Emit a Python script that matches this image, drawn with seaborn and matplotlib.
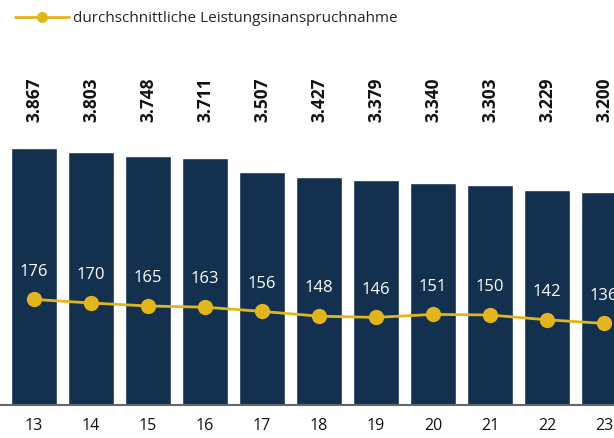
import matplotlib
matplotlib.use("Agg")
import matplotlib.pyplot as plt
import seaborn as sns
import pandas as pd
from matplotlib.lines import Line2D

years = ["13", "14", "15", "16", "17", "18", "19", "20", "21", "22", "23"]
totals = [3867, 3803, 3748, 3711, 3507, 3427, 3379, 3340, 3303, 3229, 3200]
avg_use = [176, 170, 165, 163, 156, 148, 146, 151, 150, 142, 136]
total_labels = ["3.867", "3.803", "3.748", "3.711", "3.507", "3.427", "3.379", "3.340", "3.303", "3.229", "3.200"]
legend_label = "durchschnittliche Leistungsinanspruchnahme"

BAR = "#13304f"
LINE = "#e3b51c"

sns.set_theme(style="white")
plt.rcParams["font.family"] = ["Open Sans", "DejaVu Sans"]

df = pd.DataFrame({"year": years, "total": totals, "avg": avg_use, "pos": range(len(years))})

fig = plt.figure(figsize=(6.14, 4.38), dpi=100)
H = 438
ax = fig.add_axes([0, 33 / H, 1, 345 / H])

sns.barplot(data=df, x="year", y="total", color=BAR, saturation=1, width=0.81, ax=ax)
ax.set_ylim(0, 345 / 0.06646)
ax.set_xlim(-0.596, 10.175)

ax2 = ax.twinx()
sns.lineplot(data=df, x="pos", y="avg", color=LINE, lw=2, marker="o", markersize=11,
             markeredgewidth=0, ax=ax2)
ax2.set_ylim(0, 345 / 0.6)

ytxt = (405 - 122) / 0.06646
for i, lab in enumerate(total_labels):
    ax.text(i, ytxt, lab, rotation=90, ha="center", va="bottom", fontsize=12.5,
            fontweight="bold", color="#111111")

for i, v in enumerate(avg_use):
    ax2.annotate(str(v), (i, v), xytext=(0, 20), textcoords="offset points",
                 ha="center", va="center", fontsize=12, color="white")

for a in (ax, ax2):
    a.set_ylabel("")
    a.set_yticks([])
    for s in ["top", "right", "left"]:
        a.spines[s].set_visible(False)
ax2.spines["bottom"].set_visible(False)
ax.spines["bottom"].set_color("#666666")
ax.spines["bottom"].set_linewidth(1.5)
ax.set_xticks(range(len(years)))
ax.set_xticklabels(years)
ax.set_xlim(-0.596, 10.175)
ax.tick_params(axis="x", length=0, labelsize=11.5, pad=9, colors="#111111")
ax.set_xlabel("")
ax2.set_xlabel("")

handle = Line2D([], [], color=LINE, lw=2, marker="o", markersize=8, markeredgewidth=0)
fig.legend([handle], [legend_label], loc="upper left", bbox_to_anchor=(0.01, 0.995),
           frameon=False, fontsize=11, handlelength=3.5, handletextpad=0.3,
           borderaxespad=0.2)

fig.savefig("out.png", dpi=100)
